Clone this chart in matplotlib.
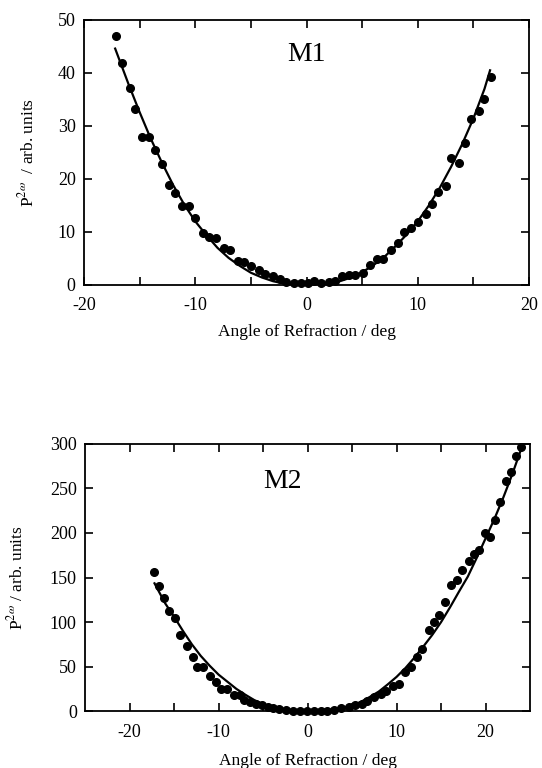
import matplotlib
matplotlib.use("Agg")
import matplotlib.pyplot as plt
from matplotlib.ticker import MultipleLocator, FixedLocator

plt.rcParams['font.family'] = ['Liberation Serif', 'DejaVu Serif']
plt.rcParams['mathtext.fontset'] = 'stix'
plt.rcParams['axes.unicode_minus'] = False

# ---- M1 data ----
m1_x = [-17.1, -16.55, -15.9, -15.4, -14.8, -14.2, -13.6, -13.0, -12.4, -11.8,
        -11.2, -10.6, -10.0, -9.3, -8.8, -8.1, -7.4, -6.9, -6.2, -5.6,
        -5.0, -4.3, -3.7, -3.0, -2.4, -1.8, -1.15, -0.5, 0.1, 0.7,
        1.3, 2.0, 2.6, 3.2, 3.8, 4.4, 5.1, 5.7, 6.3, 6.9,
        7.6, 8.2, 8.8, 9.4, 10.05, 10.7, 11.3, 11.85, 12.5, 13.0,
        13.7, 14.25, 14.8, 15.5, 16.0, 16.6]
m1_y = [47.0, 41.9, 37.2, 33.2, 27.9, 27.9, 25.5, 22.9, 18.8, 17.3,
        14.8, 14.8, 12.6, 9.8, 9.1, 8.8, 6.9, 6.5, 4.6, 4.4,
        3.5, 2.8, 2.1, 1.6, 1.1, 0.6, 0.4, 0.4, 0.4, 0.8,
        0.4, 0.6, 0.8, 1.6, 1.9, 1.9, 2.2, 3.8, 4.9, 4.9,
        6.5, 7.9, 9.9, 10.7, 11.8, 13.4, 15.3, 17.5, 18.6, 24.0,
        23.0, 26.7, 31.3, 32.9, 35.1, 39.3]
m1_fit_x = [-17.2, -16, -15, -14, -13, -12, -11, -10, -9, -8, -7, -6, -5, -4,
            -3, -2, -1, 0, 1, 2, 3, 4, 5, 6, 7, 8, 9, 10, 11, 12, 13, 14,
            15, 16, 16.5]
m1_fit_y = [44.6, 37.9, 32.6, 27.6, 23.1, 18.9, 15.2, 12.0, 9.4, 7.0, 5.1, 3.6,
            2.3, 1.4, 0.7, 0.25, 0.05, 0.0, 0.05, 0.25, 0.7, 1.4, 2.4, 3.7,
            5.3, 7.3, 9.5, 12.0, 15.0, 18.4, 22.3, 26.6, 31.4, 37.0, 40.5]

# ---- M2 data ----
m2_x = [-17.3, -16.7, -16.1, -15.6, -14.9, -14.3, -13.5, -12.9, -12.4, -11.7,
        -11.0, -10.3, -9.7, -9.0, -8.3, -7.6, -7.1, -6.5, -5.8, -5.1,
        -4.5, -3.9, -3.2, -2.4, -1.6, -0.9, -0.1, 0.7, 1.5, 2.2,
        3.0, 3.8, 4.6, 5.3, 6.1, 6.7, 7.5, 8.3, 8.8, 9.6,
        10.3, 11.0, 11.6, 12.3, 12.9, 13.6, 14.2, 14.8, 15.4, 16.1,
        16.8, 17.4, 18.1, 18.7, 19.3, 19.9, 20.5, 21.1, 21.6, 22.3,
        22.9, 23.4, 24.0]
m2_y = [156, 141, 127, 112, 105, 86, 73, 61, 49.5, 49.5,
        39, 33, 25, 25, 17.6, 17.6, 12, 10, 8.2, 6.4,
        5.2, 3.7, 2.6, 1.5, 0.7, 0.3, 0.2, 0.3, 0.4, 0.7,
        1.5, 3.7, 4.5, 6.4, 8.2, 11, 16, 19.5, 23, 28,
        31, 44, 49.5, 61, 70, 91, 100, 108, 122, 142,
        147, 159, 169, 176, 181, 200, 195, 215, 235, 258,
        268, 286, 296]
m2_fit_x = [-17.2, -16, -15, -14, -13, -12, -11, -10, -9, -8, -7, -6, -5, -4,
            -3, -2, -1, 0, 1, 2, 3, 4, 5, 6, 7, 8, 9, 10, 11, 12, 13, 14,
            15, 16, 17, 18, 19, 20, 21, 22, 23, 24.2]
m2_fit_y = [143.5, 121, 106, 90, 75, 62, 51, 41, 33, 25, 18.5, 12.5, 8, 5,
            2.8, 1.3, 0.4, 0, 0.3, 1, 2.2, 4, 6.5, 10.5, 16, 22, 30, 38.5,
            48.5, 60, 72.5, 85.5, 100, 116.5, 134, 151, 172, 194, 216, 240,
            266, 300]

m1_xticks = [-20, -10, 0, 10, 20]
m1_yticks = [0, 10, 20, 30, 40, 50]
m2_xticks = [-20, -10, 0, 10, 20]
m2_yticks = [0, 50, 100, 150, 200, 250, 300]

fig = plt.figure(figsize=(5.42, 7.68), dpi=100)
ax1 = fig.add_axes([0.155, 0.629, 0.821, 0.345])
ax2 = fig.add_axes([0.157, 0.074, 0.821, 0.348])

def style(ax):
    for s in ax.spines.values():
        s.set_linewidth(1.3)
    ax.tick_params(which='both', direction='in', length=6, width=1.2,
                   top=True, right=True, labelsize=13)
    ax.tick_params(axis='x', which='both', pad=9)
    ax.tick_params(axis='y', which='both', pad=6)

# Top
ax1.plot(m1_fit_x, m1_fit_y, color='black', lw=1.6, zorder=2)
ax1.plot(m1_x, m1_y, 'o', color='black', ms=5.5, zorder=3, clip_on=False)
ax1.set_xlim(-20, 20)
ax1.set_ylim(0, 50)
ax1.set_xticks(m1_xticks)
ax1.set_yticks(m1_yticks)
ax1.xaxis.set_minor_locator(MultipleLocator(5))
style(ax1)
ax1.set_xlabel('Angle of Refraction / deg', fontsize=12.5, labelpad=7)
ax1.set_ylabel(r'P$^{2\omega}$  / arb. units', fontsize=12.5)
ax1.yaxis.set_label_coords(-0.105, 0.5)
ax1.text(0, 43.5, 'M1', fontsize=20, ha='center', va='center')

# Bottom
ax2.plot(m2_fit_x, m2_fit_y, color='black', lw=1.6, zorder=2)
ax2.plot(m2_x, m2_y, 'o', color='black', ms=5.5, zorder=3, clip_on=False)
ax2.set_xlim(-25, 25)
ax2.set_ylim(0, 300)
ax2.set_xticks(m2_xticks)
ax2.set_yticks(m2_yticks)
ax2.xaxis.set_minor_locator(FixedLocator([-15, -5, 5, 15]))
style(ax2)
ax2.set_xlabel('Angle of Refraction / deg', fontsize=12.5, labelpad=9)
ax2.set_ylabel(r'P$^{2\omega}$ / arb. units', fontsize=12.5)
ax2.yaxis.set_label_coords(-0.132, 0.5)
ax2.text(-2.8, 258, 'M2', fontsize=20, ha='center', va='center')

fig.savefig('out.png', dpi=100)
